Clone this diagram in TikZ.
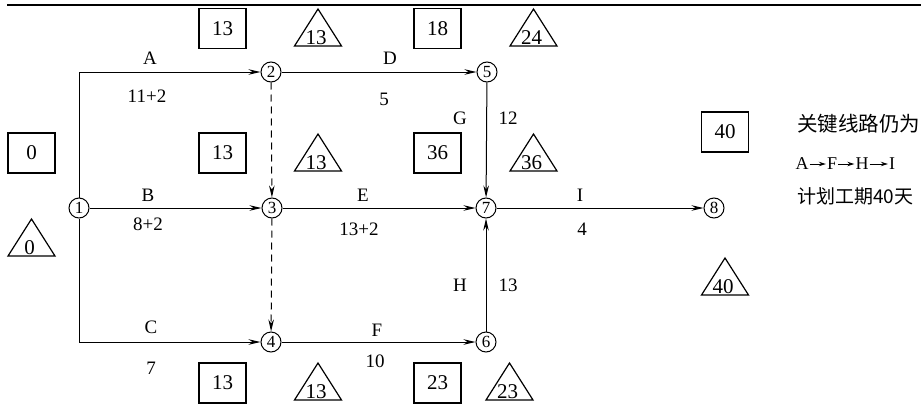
\documentclass[tikz,border=0pt]{standalone}
\usepackage{fontspec}
\setmainfont{Liberation Serif}
\newfontfamily\cjk{Noto Sans CJK SC}
\usetikzlibrary{arrows.meta}
\tikzset{
  ev/.style={circle,draw,line width=1pt,minimum size=20pt,inner sep=0pt,font=\fontsize{17}{17}\selectfont},
  bx/.style={draw,line width=1.2pt,minimum width=47pt,minimum height=40pt,inner sep=0pt,font=\fontsize{21}{21}\selectfont},
  lbl/.style={inner sep=0pt,font=\fontsize{19}{19}\selectfont},
  act/.style={line width=1pt,-{Stealth[length=12pt,width=5.5pt]}},
  dum/.style={act,dash pattern=on 7pt off 5pt},
  note/.style={inner sep=0pt,anchor=west},
  seq/.style={inner sep=0pt,font=\fontsize{18}{18}\selectfont},
  seqarr/.style={line width=0.9pt,-{Stealth[length=7pt,width=4.5pt]},shorten <=1pt,shorten >=1pt},
  pics/tri/.style={code={
    \draw[line width=1.2pt] (-23.5,18.5) -- (0,-18.5) -- (23.5,18.5) -- cycle;
    \node[inner sep=0pt,font=\fontsize{21}{21}\selectfont] (-n) at (-2,10) {#1};
  }}
}
\begin{document}
\begin{tikzpicture}[x=1pt,y=-1pt]
\useasboundingbox (0,0) rectangle (921,407);
% top rule
\coordinate (r1) at (7,5);
\coordinate (r2) at (921,5);
\draw[line width=2pt] (r1) -- (r2);

% events
\node[ev] (n1) at (79,208) {1};
\node[ev] (n2) at (271,72) {2};
\node[ev] (n3) at (272,208) {3};
\node[ev] (n4) at (271,342) {4};
\node[ev] (n5) at (487,72) {5};
\node[ev] (n6) at (486,342) {6};
\node[ev] (n7) at (486,208) {7};
\node[ev] (n8) at (714,208) {8};

% activities
\draw[act] (n1.north) |- (n2.west);
\draw[act] (n1.south) |- (n4.west);
\draw[act] (n1) -- (n3);
\draw[act] (n2) -- (n5);
\draw[dum] (n2) -- (n3);
\draw[dum] (n3) -- (n4);
\draw[act] (n5) -- (n7);
\draw[act] (n3) -- (n7);
\draw[act] (n4) -- (n6);
\draw[act] (n6) -- (n7);
\draw[act] (n7) -- (n8);

% activity labels
\node[lbl] (lA) at (150,58) {A};
\node[lbl] (dA) at (147,96) {11+2};
\node[lbl] (lD) at (390,58) {D};
\node[lbl] (dD) at (384,99) {5};
\node[lbl] (lG) at (460,118) {G};
\node[lbl] (dG) at (508,118) {12};
\node[lbl] (lB) at (148,195) {B};
\node[lbl] (dB) at (148,224) {8+2};
\node[lbl] (lE) at (363,195) {E};
\node[lbl] (dE) at (359,229) {13+2};
\node[lbl] (lI) at (580,195) {I};
\node[lbl] (dI) at (582,229) {4};
\node[lbl] (lH) at (460,285) {H};
\node[lbl] (dH) at (508,285) {13};
\node[lbl] (lC) at (151,327) {C};
\node[lbl] (dC) at (151,368) {7};
\node[lbl] (lF) at (377,330) {F};
\node[lbl] (dF) at (375,361) {10};

% boxes
\node[bx] (b1) at (222.5,28.5) {13};
\node[bx] (b2) at (437.5,28.5) {18};
\node[bx] (b3) at (31.5,153) {0};
\node[bx] (b4) at (222.5,153) {13};
\node[bx] (b5) at (437.5,153) {36};
\node[bx] (b6) at (725,132) {40};
\node[bx] (b7) at (222.5,383) {13};
\node[bx] (b8) at (437.5,383) {23};

% triangles
\pic (t1) at (318,27.5) {tri=13};
\pic (t2) at (533.5,27.5) {tri=24};
\pic (t3) at (31.5,237.5) {tri=0};
\pic (t4) at (318,152.5) {tri=13};
\pic (t5) at (533.5,152.5) {tri=36};
\pic (t6) at (725,276.5) {tri=40};
\pic (t7) at (318,381.5) {tri=13};
\pic (t8) at (509.5,381.5) {tri=23};

% note
\node[note,font=\cjk\fontsize{20.5}{21}\selectfont] (m1) at (797,124) {关键线路仍为};
\node[seq] (sA) at (802,164) {A};
\node[seq] (sF) at (832,164) {F};
\node[seq] (sH) at (862,164) {H};
\node[seq] (sI) at (892,164) {I};
\draw[seqarr] (sA) -- (sF);
\draw[seqarr] (sF) -- (sH);
\draw[seqarr] (sH) -- (sI);
\node[note,font=\cjk\fontsize{19}{20}\selectfont] (m3) at (797,196) {计划工期40天};
\end{tikzpicture}
\end{document}
